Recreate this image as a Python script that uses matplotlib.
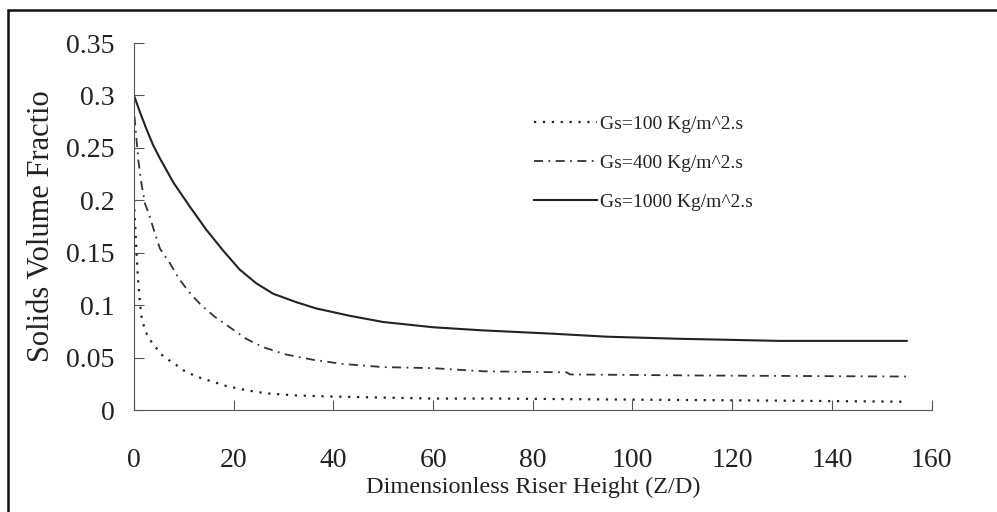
import matplotlib
matplotlib.use("Agg")
import matplotlib.pyplot as plt
from matplotlib.patches import Rectangle

plt.rcParams["font.family"] = ["Liberation Serif", "DejaVu Serif"]

# Gs = 100 Kg/m^2.s
x_100 = [0, 0.4, 0.8, 1.2, 1.5, 2.2, 3.2, 4.5, 5.9, 7.9, 9.9, 12.5, 15.2, 18.5, 22.5,
         26.5, 32.5, 39.2, 60, 73, 100, 130, 155]
y_100 = [0.20, 0.16, 0.125, 0.102, 0.089, 0.076, 0.067, 0.059, 0.051, 0.045, 0.038,
         0.032, 0.028, 0.023, 0.019, 0.016, 0.014, 0.013, 0.011, 0.011, 0.010, 0.009, 0.008]

# Gs = 400 Kg/m^2.s
x_400 = [0.1, 0.5, 0.9, 1.5, 2.2, 3.2, 3.9, 5.2, 7.2, 9.2, 11.5, 13.5, 16.2, 19.2, 22.5,
         25.9, 30.5, 35.9, 41.9, 50, 60, 70, 86.8, 87.5, 113.5, 155]
y_400 = [0.28, 0.258, 0.237, 0.216, 0.197, 0.184, 0.173, 0.154, 0.140, 0.124, 0.110,
         0.100, 0.089, 0.079, 0.068, 0.060, 0.053, 0.048, 0.044, 0.041, 0.040, 0.037,
         0.036, 0.034, 0.033, 0.032]

# Gs = 1000 Kg/m^2.s
x_1000 = [0, 1.2, 2.5, 3.8, 5.2, 7.9, 11.2, 14.5, 17.9, 21.2, 24.5, 27.9, 32.5, 36.5,
          43.2, 50, 60, 70, 83.4, 94.8, 109.5, 129.5, 155]
y_1000 = [0.300, 0.284, 0.268, 0.253, 0.240, 0.217, 0.194, 0.172, 0.152, 0.134, 0.121,
          0.111, 0.103, 0.097, 0.090, 0.084, 0.079, 0.076, 0.073, 0.070, 0.068, 0.066, 0.066]

x_ticks = [0, 20, 40, 60, 80, 100, 120, 140, 160]
y_ticks = [0, 0.05, 0.1, 0.15, 0.2, 0.25, 0.3, 0.35]
y_tick_labels = ["0", "0.05", "0.1", "0.15", "0.2", "0.25", "0.3", "0.35"]

fig = plt.figure(figsize=(9.97, 5.12), dpi=100)
ax = fig.add_axes([0.1344, 0.199, 0.800, 0.717])

ax.plot(x_100, y_100, color="#222222", lw=1.6, linestyle=(0, (1, 3)),
        label="Gs=100 Kg/m^2.s")
ax.plot(x_400, y_400, color="#333333", lw=1.3, linestyle=(0, (5, 3, 1, 3)),
        label="Gs=400 Kg/m^2.s")
ax.plot(x_1000, y_1000, color="#222222", lw=1.5, linestyle="-",
        label="Gs=1000 Kg/m^2.s")

ax.set_xlim(0, 160)
ax.set_ylim(0, 0.35)
ax.set_xticks(x_ticks)
ax.set_yticks(y_ticks)
ax.set_yticklabels(y_tick_labels)
ax.spines["top"].set_visible(False)
ax.spines["right"].set_visible(False)
ax.spines["left"].set_color("#555555")
ax.spines["bottom"].set_color("#555555")
ax.tick_params(axis="both", direction="in", length=7, color="#555555", labelsize=20,
               labelcolor="#222222")
ax.tick_params(axis="x", pad=27)
ax.tick_params(axis="y", pad=14)

ax.set_xlabel("Dimensionless Riser Height (Z/D)", fontsize=17.5, color="#222222", labelpad=3)
ax.set_ylabel("Solids Volume Fractio", fontsize=22, color="#222222", labelpad=7)

ax.legend(loc="upper left", bbox_to_anchor=(0.48, 0.85), frameon=False, fontsize=14,
          handlelength=3.2, handletextpad=0.2, labelspacing=1.1, labelcolor="#222222")

fig.patches.append(Rectangle((8 / 997, -0.1), 1.2, 1.1 - 10 / 512, transform=fig.transFigure,
                             fill=False, edgecolor="#111111", lw=1.8))

fig.savefig("out.png", dpi=100, facecolor="white")
